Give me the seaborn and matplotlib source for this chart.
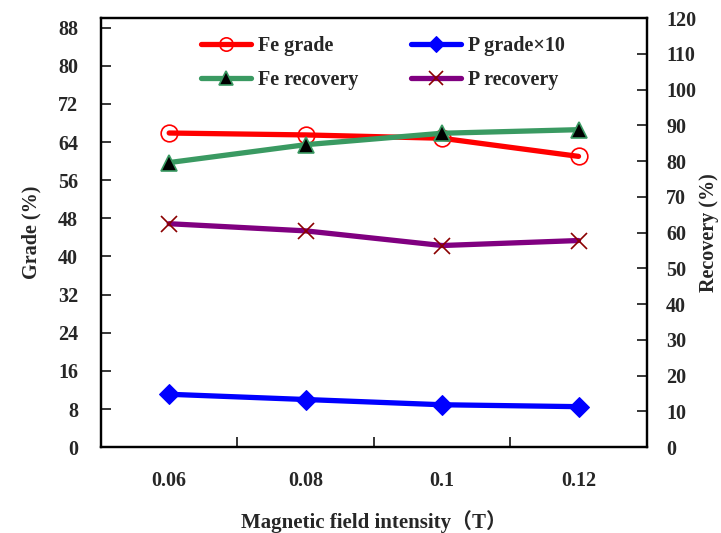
import matplotlib
matplotlib.use('Agg')
import matplotlib.pyplot as plt
import seaborn as sns
import pandas as pd

# Data
intensity = ['0.06', '0.08', '0.1', '0.12']
fe_grade = [65.9, 65.5, 64.8, 61.0]
p_grade_x10 = [11.1, 10.0, 8.9, 8.5]
fe_recovery = [79.6, 84.6, 87.8, 88.8]
p_recovery = [62.5, 60.5, 56.4, 57.8]

sns.set_style('ticks')
plt.rcParams['font.family'] = ['Liberation Serif', 'Noto Sans CJK SC', 'DejaVu Sans']
plt.rcParams['font.weight'] = 'bold'
plt.rcParams['axes.linewidth'] = 1.6

df = pd.DataFrame({'x': intensity, 'fe_grade': fe_grade, 'p_grade': p_grade_x10,
                   'fe_rec': fe_recovery, 'p_rec': p_recovery})

fig = plt.figure(figsize=(7.21, 5.33), dpi=100)
ax = fig.add_axes([0.140, 0.161, 0.757, 0.805])
ax2 = ax.twinx()

fs = 14.5
lw = 3.8
sns.lineplot(data=df, x='x', y='fe_grade', ax=ax, sort=False, color='#FF0000', lw=lw,
             marker='o', markersize=12, markerfacecolor='none', markeredgecolor='#FF0000',
             markeredgewidth=1.2, label='Fe grade', legend=False)
sns.lineplot(data=df, x='x', y='p_grade', ax=ax, sort=False, color='#0000FF', lw=lw,
             marker='D', markersize=10, markerfacecolor='#0000FF', markeredgecolor='#0000FF',
             label='P grade×10', legend=False)
sns.lineplot(data=df, x='x', y='fe_rec', ax=ax2, sort=False, color='#3A9A62', lw=lw,
             marker='^', markersize=12, markerfacecolor='black', markeredgecolor='#3A9A62',
             markeredgewidth=1.2, label='Fe recovery', legend=False)
sns.lineplot(data=df, x='x', y='p_rec', ax=ax2, sort=False, color='#800080', lw=lw,
             marker='x', markersize=12, markeredgecolor='#8B0000', markeredgewidth=1.2,
             label='P recovery', legend=False)

ax.set_xlim(-0.5, 3.5)
ax.set_ylim(0, 90)
ax.set_yticks(range(0, 89, 8))
ax2.set_ylim(0, 120)
ax2.set_yticks(range(0, 121, 10))

ax.set_xticks(range(len(intensity)))
ax.set_xticklabels(intensity)
ax.set_xticks([0.5, 1.5, 2.5], minor=True)
ax.tick_params(axis='x', which='major', length=0, pad=17, labelsize=fs)
ax.tick_params(axis='x', which='minor', direction='in', length=7, width=1.3)
ax.tick_params(axis='y', direction='in', length=7, width=1.3, pad=16.5, labelsize=fs)
ax2.tick_params(axis='y', direction='in', length=7, width=1.3, pad=14, labelsize=fs)

for a in (ax, ax2):
    for s in a.spines.values():
        s.set_linewidth(1.6)
        s.set_color('black')

ax.set_xlabel('Magnetic field intensity（T）', fontsize=fs + 0.5, fontweight='bold', labelpad=14)
ax.set_ylabel('Grade (%)', fontsize=fs, fontweight='bold', labelpad=12)
ax2.set_ylabel('Recovery (%)', fontsize=fs, fontweight='bold', labelpad=2)

h1, l1 = ax.get_legend_handles_labels()
h2, l2 = ax2.get_legend_handles_labels()
handles = [h1[0], h2[0], h1[1], h2[1]]
labels = [l1[0], l2[0], l1[1], l2[1]]
ax.legend(handles, labels, ncol=2, loc='upper center', frameon=False, fontsize=fs,
          handlelength=2.5, handletextpad=0.35, columnspacing=2.6, labelspacing=0.7,
          bbox_to_anchor=(0.517, 1.0), markerscale=0.8)

fig.savefig('out.png', dpi=100)
